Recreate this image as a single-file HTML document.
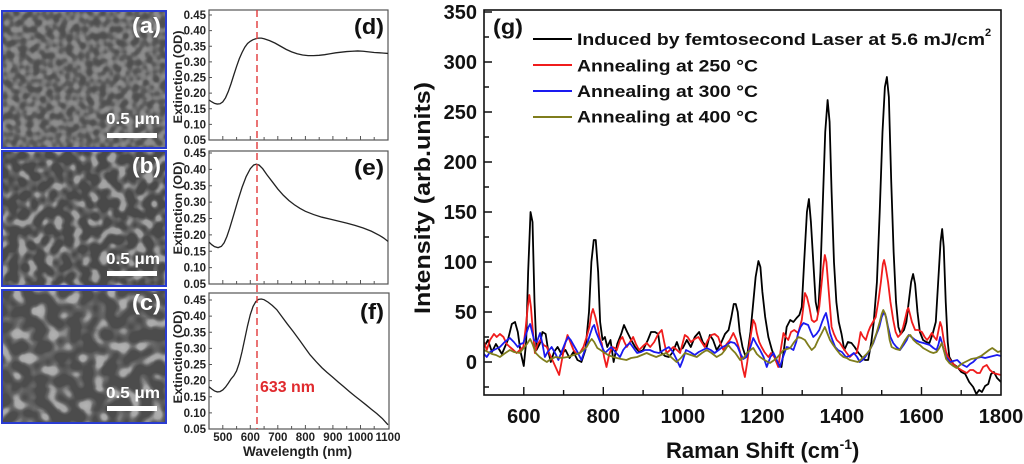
<!DOCTYPE html>
<html><head><meta charset="utf-8"><style>
html,body{margin:0;padding:0;background:#fff;}
svg{display:block;font-family:"Liberation Sans",Arial,sans-serif;font-weight:bold;}
</style></head><body>
<svg width="1024" height="464" viewBox="0 0 1024 464" xmlns="http://www.w3.org/2000/svg">
<defs>
<filter id="fa" x="0" y="0" width="1" height="1" color-interpolation-filters="sRGB">
<feTurbulence type="fractalNoise" baseFrequency="0.15" numOctaves="1" seed="4"/>
<feColorMatrix type="matrix" values="1 0 0 0 0 1 0 0 0 0 1 0 0 0 0 0 0 0 0 1"/>
<feComponentTransfer>
<feFuncR type="table" tableValues="0.31 0.31 0.31 0.32 0.37 0.47 0.54 0.56 0.56 0.56"/>
<feFuncG type="table" tableValues="0.31 0.31 0.31 0.32 0.37 0.47 0.54 0.56 0.56 0.56"/>
<feFuncB type="table" tableValues="0.31 0.31 0.31 0.32 0.37 0.47 0.54 0.56 0.56 0.56"/>
</feComponentTransfer>
</filter>
<filter id="fb" x="0" y="0" width="1" height="1" color-interpolation-filters="sRGB">
<feTurbulence type="fractalNoise" baseFrequency="0.11" numOctaves="1" seed="9"/>
<feColorMatrix type="matrix" values="1 0 0 0 0 1 0 0 0 0 1 0 0 0 0 0 0 0 0 1"/>
<feComponentTransfer>
<feFuncR type="table" tableValues="0.29 0.29 0.29 0.29 0.29 0.40 0.62 0.65 0.65 0.65"/>
<feFuncG type="table" tableValues="0.29 0.29 0.29 0.29 0.29 0.40 0.62 0.65 0.65 0.65"/>
<feFuncB type="table" tableValues="0.29 0.29 0.29 0.29 0.29 0.40 0.62 0.65 0.65 0.65"/>
</feComponentTransfer>
</filter>
<filter id="fc" x="0" y="0" width="1" height="1" color-interpolation-filters="sRGB">
<feTurbulence type="fractalNoise" baseFrequency="0.085" numOctaves="1" seed="17"/>
<feColorMatrix type="matrix" values="1 0 0 0 0 1 0 0 0 0 1 0 0 0 0 0 0 0 0 1"/>
<feComponentTransfer>
<feFuncR type="table" tableValues="0.30 0.30 0.30 0.30 0.30 0.40 0.66 0.70 0.70 0.70"/>
<feFuncG type="table" tableValues="0.30 0.30 0.30 0.30 0.30 0.40 0.66 0.70 0.70 0.70"/>
<feFuncB type="table" tableValues="0.30 0.30 0.30 0.30 0.30 0.40 0.66 0.70 0.70 0.70"/>
</feComponentTransfer>
</filter>
<clipPath id="cm"><rect x="484" y="10" width="517" height="385"/></clipPath>
<clipPath id="cd"><rect x="209" y="10" width="179" height="130"/></clipPath>
<clipPath id="ce"><rect x="209" y="151" width="179" height="133"/></clipPath>
<clipPath id="cf"><rect x="209" y="293" width="180" height="136"/></clipPath>
</defs>
<rect width="1024" height="464" fill="#fff"/>

<!-- SEM panels -->
<rect x="2" y="11" width="164" height="137" fill="#5e5e5e" filter="url(#fa)"/>
<rect x="2" y="11" width="164" height="137" fill="none" stroke="#2a3cd0" stroke-width="2"/>
<rect x="2" y="151" width="164" height="135" fill="#555" filter="url(#fb)"/>
<rect x="2" y="151" width="164" height="135" fill="none" stroke="#2a3cd0" stroke-width="2"/>
<rect x="2" y="290" width="164" height="133" fill="#555" filter="url(#fc)"/>
<rect x="2" y="290" width="164" height="133" fill="none" stroke="#2a3cd0" stroke-width="2"/>
<g fill="#fff">
<text x="132" y="33" font-size="22" textLength="29" lengthAdjust="spacingAndGlyphs">(a)</text>
<text x="106" y="124" font-size="16" textLength="54" lengthAdjust="spacingAndGlyphs">0.5 μm</text>
<rect x="107" y="133" width="50" height="5"/>
<text x="132" y="173" font-size="22" textLength="29" lengthAdjust="spacingAndGlyphs">(b)</text>
<text x="106" y="264" font-size="16" textLength="54" lengthAdjust="spacingAndGlyphs">0.5 μm</text>
<rect x="107" y="271" width="50" height="5"/>
<text x="132" y="310" font-size="22" textLength="29" lengthAdjust="spacingAndGlyphs">(c)</text>
<text x="106" y="398" font-size="16" textLength="54" lengthAdjust="spacingAndGlyphs">0.5 μm</text>
<rect x="107" y="406" width="50" height="5"/>
</g>

<!-- Middle panels -->
<g fill="none" stroke="#555" stroke-width="1.2">
<rect x="209" y="10" width="179" height="130"/>
<rect x="209" y="151" width="179" height="133"/>
<rect x="209" y="293" width="180" height="136"/>
</g>
<g stroke="#555" stroke-width="1">
<path d="M209 124.4h3M209 108.75h3M209 93.1h3M209 77.5h3M209 61.9h3M209 46.25h3M209 30.6h3M209 15h3"/>
<path d="M209 267.6h3M209 251.25h3M209 234.9h3M209 218.5h3M209 202.1h3M209 185.75h3M209 169.4h3M209 153h3"/>
<path d="M209 412.9h3M209 396.75h3M209 380.6h3M209 364.5h3M209 348.4h3M209 332.25h3M209 316.1h3M209 300h3"/>
<path d="M222.8 140v-4M236.6 140v-3M250.3 140v-4M264.1 140v-3M277.8 140v-4M291.6 140v-3M305.4 140v-4M319.2 140v-3M332.9 140v-4M346.7 140v-3M360.5 140v-4M374.2 140v-3"/>
<path d="M222.8 284v-4M236.6 284v-3M250.3 284v-4M264.1 284v-3M277.8 284v-4M291.6 284v-3M305.4 284v-4M319.2 284v-3M332.9 284v-4M346.7 284v-3M360.5 284v-4M374.2 284v-3"/>
<path d="M222.8 429v-4M236.6 429v-3M250.3 429v-4M264.1 429v-3M277.8 429v-4M291.6 429v-3M305.4 429v-4M319.2 429v-3M332.9 429v-4M346.7 429v-3M360.5 429v-4M374.2 429v-3"/>
</g>
<g font-size="11.5" fill="#222" text-anchor="end">
<text x="206" y="144">0.05</text><text x="206" y="128.4">0.10</text><text x="206" y="112.75">0.15</text><text x="206" y="97.1">0.20</text><text x="206" y="81.5">0.25</text><text x="206" y="65.9">0.30</text><text x="206" y="50.25">0.35</text><text x="206" y="34.6">0.40</text><text x="206" y="19">0.45</text>
<text x="206" y="288">0.05</text><text x="206" y="271.6">0.10</text><text x="206" y="255.25">0.15</text><text x="206" y="238.9">0.20</text><text x="206" y="222.5">0.25</text><text x="206" y="206.1">0.30</text><text x="206" y="189.75">0.35</text><text x="206" y="173.4">0.40</text><text x="206" y="157">0.45</text>
<text x="206" y="433">0.05</text><text x="206" y="416.9">0.10</text><text x="206" y="400.75">0.15</text><text x="206" y="384.6">0.20</text><text x="206" y="368.5">0.25</text><text x="206" y="352.4">0.30</text><text x="206" y="336.25">0.35</text><text x="206" y="320.1">0.40</text><text x="206" y="304">0.45</text>
</g>
<g font-size="11.5" fill="#222" text-anchor="middle">
<text x="222.8" y="441">500</text><text x="250.3" y="441">600</text><text x="277.8" y="441">700</text><text x="305.4" y="441">800</text><text x="332.9" y="441">900</text><text x="360.5" y="441">1000</text><text x="388" y="441">1100</text>
</g>
<text x="243" y="456" font-size="14" fill="#222" textLength="109" lengthAdjust="spacingAndGlyphs">Wavelength (nm)</text>
<g font-size="12" fill="#222" text-anchor="middle">
<text transform="translate(182,77) rotate(-90)" textLength="93" lengthAdjust="spacingAndGlyphs">Extinction (OD)</text>
<text transform="translate(182,208) rotate(-90)" textLength="93" lengthAdjust="spacingAndGlyphs">Extinction (OD)</text>
<text transform="translate(182,357) rotate(-90)" textLength="93" lengthAdjust="spacingAndGlyphs">Extinction (OD)</text>
</g>
<g font-size="22" fill="#111" text-anchor="end">
<text x="384" y="34" textLength="30" lengthAdjust="spacingAndGlyphs">(d)</text>
<text x="384" y="175" textLength="30" lengthAdjust="spacingAndGlyphs">(e)</text>
<text x="384" y="319" textLength="24" lengthAdjust="spacingAndGlyphs">(f)</text>
</g>
<g clip-path="url(#cd)"><g transform="translate(209,140) scale(0.27538,-312.5) translate(-450,-0.05)">
<polyline fill="none" stroke="#222" stroke-width="1.3" vector-effect="non-scaling-stroke" points="450,0.178 460,0.172 470,0.167 480,0.165 490,0.166 500,0.172 510,0.185 520,0.205 530,0.23 540,0.258 550,0.285 560,0.31 570,0.33 580,0.347 590,0.359 600,0.366 610,0.371 620,0.374 630,0.376 640,0.376 650,0.374 670,0.368 690,0.36 710,0.35 730,0.34 750,0.332 770,0.326 790,0.322 810,0.32 830,0.32 850,0.321 870,0.323 890,0.326 910,0.329 930,0.331 950,0.333 970,0.334 990,0.335 1010,0.334 1030,0.332 1050,0.330 1070,0.329 1085,0.328 1100,0.327"/>
</g></g>
<g clip-path="url(#ce)"><g transform="translate(209,284) scale(0.27538,-327.5) translate(-450,-0.05)">
<polyline fill="none" stroke="#222" stroke-width="1.3" vector-effect="non-scaling-stroke" points="450,0.178 460,0.170 470,0.164 483,0.161 495,0.165 505,0.176 515,0.195 525,0.22 540,0.262 555,0.305 570,0.345 585,0.378 600,0.402 612,0.413 622,0.416 632,0.413 645,0.402 660,0.384 680,0.362 700,0.34 720,0.321 740,0.305 760,0.292 780,0.281 800,0.272 830,0.262 860,0.254 890,0.248 920,0.242 950,0.236 980,0.229 1010,0.221 1040,0.211 1070,0.198 1085,0.19 1100,0.18"/>
</g></g>
<g clip-path="url(#cf)"><g transform="translate(209,429) scale(0.27538,-322.5) translate(-450,-0.05)">
<polyline fill="none" stroke="#222" stroke-width="1.3" vector-effect="non-scaling-stroke" points="450,0.181 460,0.174 470,0.168 480,0.165 490,0.166 500,0.171 510,0.18 520,0.192 530,0.205 540,0.215 550,0.23 560,0.255 570,0.29 580,0.33 590,0.37 600,0.405 610,0.43 620,0.445 630,0.452 640,0.453 650,0.451 665,0.443 680,0.433 696,0.42 715,0.398 735,0.375 756,0.352 780,0.324 800,0.3 817,0.28 840,0.258 860,0.24 878,0.226 900,0.21 920,0.195 938,0.182 960,0.166 980,0.152 998,0.14 1020,0.125 1040,0.111 1059,0.098 1080,0.082 1100,0.063"/>
</g></g>
<line x1="257" y1="10" x2="257" y2="429" stroke="#e0383a" stroke-width="1.4" stroke-dasharray="7 4"/>
<text x="260" y="392" font-size="15.5" fill="#e02a2e" textLength="55" lengthAdjust="spacingAndGlyphs">633 nm</text>

<!-- Main chart -->
<g clip-path="url(#cm)"><g transform="translate(484,362) scale(0.3977,-1) translate(-500,0)" fill="none" stroke-linejoin="round" stroke-width="1.8">
<polyline stroke="#000" vector-effect="non-scaling-stroke" points="500,15 510,22 520,10 530,18 545,8 560,22 570,38 578,40 585,30 592,10 600,-4 606,20 611,90 617,150 622,140 627,60 632,12 640,18 647,30 655,28 662,10 668,0 676,10 685,15 695,8 705,12 715,4 725,10 735,2 745,0 755,12 764,50 770,100 776,122 781,122 787,90 792,40 798,22 804,25 810,15 818,22 826,0 835,18 845,28 852,37 860,30 870,22 880,15 890,10 900,12 912,22 920,30 930,30 938,28 944,10 955,6 965,5 975,10 985,20 992,12 1000,14 1010,22 1020,15 1030,25 1041,30 1050,20 1060,15 1068,27 1076,22 1085,12 1095,18 1106,28 1115,32 1122,45 1128,58 1133,58 1138,50 1143,30 1150,15 1158,5 1163,10 1170,30 1176,55 1183,85 1190,101 1195,95 1200,70 1207,45 1215,25 1224,12 1236,0 1248,-5 1255,15 1261,35 1270,42 1278,40 1286,44 1293,47 1299,55 1305,100 1312,150 1317,163 1322,140 1328,100 1334,60 1340,48 1346,90 1352,160 1358,230 1364,262 1369,240 1374,170 1380,100 1386,60 1392,40 1399,28 1406,12 1415,20 1424,19 1432,15 1440,10 1450,5 1458,2 1466,2 1474,20 1480,40 1488,80 1495,150 1502,230 1508,275 1513,285 1518,265 1524,180 1530,110 1536,60 1542,35 1548,28 1556,32 1562,40 1568,60 1574,80 1579,88 1584,78 1590,50 1596,30 1604,22 1612,20 1620,19 1628,28 1636,40 1642,80 1648,120 1652,133 1656,115 1661,60 1666,20 1670,5 1680,-2 1690,-5 1700,-10 1710,-12 1720,-20 1730,-25 1738,-32 1745,-28 1752,-30 1760,-24 1768,-22 1775,-12 1782,-10 1790,-16 1800,-20"/>
<polyline stroke="#f01c1c" vector-effect="non-scaling-stroke" points="500,20 507,12 515,22 525,28 532,25 540,28 549,25 557,18 565,15 574,12 582,9 590,12 599,15 605,35 610,55 614,67 618,55 622,35 628,9 635,18 642,22 650,17 658,15 665,8 672,2 680,-5 689,-13 695,0 702,15 710,27 717,20 725,12 733,8 741,9 750,15 758,25 765,35 770,48 774,53 780,45 786,35 792,22 796,19 802,5 808,-5 815,8 822,15 829,14 834,12 842,22 848,25 853,20 859,15 867,20 875,25 882,18 890,12 900,16 909,19 918,15 928,20 938,28 947,32 953,20 959,9 968,12 976,15 985,12 993,9 999,18 1005,27 1012,25 1020,20 1030,23 1039,25 1047,20 1055,15 1063,22 1072,27 1080,28 1089,25 1095,18 1102,12 1110,18 1118,22 1127,29 1135,22 1144,10 1150,-5 1156,-15 1162,0 1169,22 1177,42 1182,38 1186,29 1192,20 1198,15 1205,10 1215,5 1222,9 1230,5 1240,-5 1246,12 1253,29 1259,25 1265,22 1272,30 1280,32 1290,29 1299,42 1303,55 1307,69 1312,65 1318,55 1324,42 1330,40 1337,42 1343,55 1348,75 1353,95 1357,107 1361,100 1366,75 1371,50 1374,35 1380,28 1387,22 1395,19 1403,14 1412,9 1420,5 1428,8 1437,9 1442,18 1447,30 1452,26 1460,22 1466,30 1471,35 1478,40 1485,45 1492,62 1498,80 1503,98 1506,102 1510,95 1516,80 1522,60 1529,42 1535,30 1541,25 1548,28 1554,35 1560,45 1564,52 1567,54 1571,48 1576,40 1584,32 1592,32 1601,30 1608,25 1614,22 1620,25 1626,29 1632,25 1638,22 1643,32 1647,40 1651,35 1656,22 1662,10 1667,5 1675,0 1688,-5 1700,-8 1714,-11 1722,-8 1730,-8 1740,-11 1747,-11 1755,-5 1764,-3 1772,-8 1781,-11 1790,-12 1800,-13"/>
<polyline stroke="#1a1af0" vector-effect="non-scaling-stroke" points="500,8 507,5 515,10 525,12 540,15 552,20 565,24 575,20 585,15 592,18 599,19 606,28 612,35 616,38 621,30 626,22 633,20 641,29 647,18 653,5 660,10 670,15 680,8 687,2 695,10 705,20 712,25 718,22 725,17 735,10 745,2 752,10 760,19 767,28 773,35 777,37 782,30 790,22 797,15 804,9 812,12 820,15 830,10 842,5 850,12 858,16 867,19 876,14 885,9 895,10 905,12 917,12 928,10 940,9 952,12 965,15 975,10 985,2 993,-5 1000,2 1008,12 1018,10 1030,7 1040,10 1050,12 1060,14 1070,12 1080,9 1090,12 1100,15 1110,17 1120,20 1130,19 1138,15 1145,8 1152,3 1160,5 1170,15 1177,24 1185,18 1194,12 1203,5 1211,-5 1220,5 1228,9 1236,2 1244,-5 1252,5 1261,15 1270,14 1278,12 1285,20 1290,29 1296,35 1303,39 1309,38 1315,37 1322,30 1328,25 1336,28 1343,32 1350,40 1356,46 1360,49 1365,40 1370,29 1376,22 1383,15 1390,12 1400,10 1410,5 1420,6 1430,9 1438,5 1445,0 1455,3 1462,7 1470,12 1479,19 1487,28 1494,35 1500,45 1506,50 1511,45 1516,35 1522,25 1529,19 1537,15 1546,12 1555,17 1563,22 1568,27 1575,25 1584,22 1595,20 1605,19 1613,18 1621,17 1630,14 1638,12 1643,18 1647,25 1651,20 1656,12 1662,5 1672,0 1680,1 1690,2 1700,-2 1714,-5 1722,-2 1730,0 1740,4 1750,5 1760,4 1770,5 1780,6 1790,7 1800,6"/>
<polyline stroke="#7f7d1c" vector-effect="non-scaling-stroke" points="500,12 510,10 520,8 530,7 540,5 550,8 565,12 575,10 590,9 600,14 608,18 616,23 622,18 630,9 640,5 650,2 658,0 668,3 680,5 695,4 710,5 725,7 741,9 750,12 758,15 765,20 771,23 777,20 785,14 793,12 800,10 812,7 825,5 834,4 845,3 858,2 870,4 885,5 897,7 909,9 920,7 933,5 945,7 958,9 970,5 984,0 995,4 1005,9 1020,7 1035,5 1048,9 1060,12 1072,9 1085,5 1098,8 1106,12 1114,17 1122,13 1132,9 1144,2 1155,5 1161,9 1170,12 1177,14 1186,8 1194,5 1205,2 1219,-1 1230,2 1236,4 1245,8 1253,12 1262,13 1270,14 1280,20 1290,25 1298,24 1307,22 1315,17 1324,12 1332,15 1340,22 1348,28 1357,35 1362,30 1370,22 1378,17 1387,12 1395,8 1404,5 1412,4 1420,2 1430,1 1440,0 1447,2 1454,5 1462,8 1470,12 1477,18 1487,29 1495,40 1500,48 1504,52 1509,48 1515,35 1520,22 1525,15 1535,13 1545,12 1552,17 1559,22 1566,26 1572,27 1580,22 1588,19 1596,17 1604,14 1613,12 1622,10 1630,9 1638,10 1645,14 1651,19 1656,12 1662,3 1670,-1 1680,-4 1688,-6 1697,-3 1705,-1 1715,1 1725,3 1739,4 1750,6 1760,9 1770,12 1778,14 1785,12 1792,10 1800,11"/>
</g></g>
<rect x="484" y="10" width="517" height="385" fill="none" stroke="#111" stroke-width="1.6"/>
<g stroke="#111" stroke-width="1.4">
<path d="M484 362h8M484 312h8M484 262h8M484 212h8M484 162h8M484 112h8M484 62h8M484 12h8"/>
<path d="M484 387h5M484 337h5M484 287h5M484 237h5M484 187h5M484 137h5M484 87h5M484 37h5"/>
<path d="M523.8 395v-8M603.3 395v-8M682.9 395v-8M762.4 395v-8M841.9 395v-8M921.5 395v-8"/>
<path d="M563.6 395v-5M643.1 395v-5M722.6 395v-5M802.2 395v-5M881.7 395v-5M961.2 395v-5"/>
</g>
<g font-size="20" fill="#111" text-anchor="end">
<text x="477" y="369">0</text><text x="477" y="319">50</text><text x="477" y="269">100</text><text x="477" y="219">150</text><text x="477" y="169">200</text><text x="477" y="119">250</text><text x="477" y="69">300</text><text x="477" y="19">350</text>
</g>
<g font-size="20" fill="#111" text-anchor="middle">
<text x="523.8" y="423">600</text><text x="603.3" y="423">800</text><text x="682.9" y="423">1000</text><text x="762.4" y="423">1200</text><text x="841.9" y="423">1400</text><text x="921.5" y="423">1600</text><text x="1001" y="423">1800</text>
</g>
<text x="666" y="458" font-size="22" fill="#111">Raman Shift (cm<tspan font-size="14" dy="-9">-1</tspan><tspan dy="9">)</tspan></text>
<text transform="translate(430,198) rotate(-90)" font-size="22" fill="#111" text-anchor="middle" textLength="232" lengthAdjust="spacingAndGlyphs">Intensity (arb.units)</text>
<text x="493" y="34" font-size="21" fill="#111" textLength="30" lengthAdjust="spacingAndGlyphs">(g)</text>
<g stroke-width="2">
<line x1="533" y1="39" x2="572" y2="39" stroke="#000"/>
<line x1="533" y1="65" x2="572" y2="65" stroke="#f01c1c"/>
<line x1="533" y1="91" x2="572" y2="91" stroke="#1a1af0"/>
<line x1="533" y1="117" x2="572" y2="117" stroke="#7f7d1c"/>
</g>
<g font-size="16.5" fill="#111">
<text x="577" y="45"><tspan textLength="408" lengthAdjust="spacingAndGlyphs">Induced by femtosecond Laser at 5.6 mJ/cm</tspan><tspan font-size="11" dy="-9">2</tspan></text>
<text x="577" y="71.5" textLength="181" lengthAdjust="spacingAndGlyphs">Annealing at 250 °C</text>
<text x="577" y="97" textLength="181" lengthAdjust="spacingAndGlyphs">Annealing at 300 °C</text>
<text x="577" y="122.5" textLength="181" lengthAdjust="spacingAndGlyphs">Annealing at 400 °C</text>
</g>
</svg>
</body></html>
